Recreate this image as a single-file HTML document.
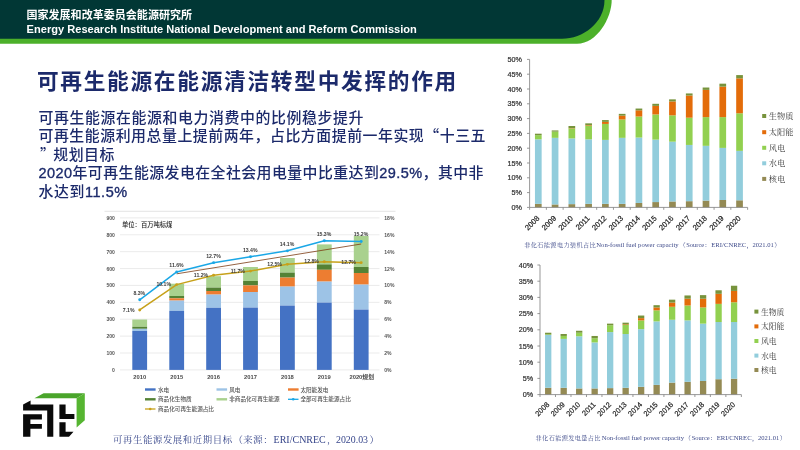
<!DOCTYPE html>
<html lang="zh-CN">
<head>
<meta charset="utf-8">
<title>可再生能源在能源清洁转型中发挥的作用</title>
<style>
html,body{margin:0;padding:0;background:#fff;}
body{width:800px;height:450px;overflow:hidden;position:relative;font-family:"Liberation Sans", "Noto Sans CJK SC", sans-serif;}
svg{position:absolute;left:0;top:0;display:block;}
.t{position:absolute;white-space:nowrap;line-height:1;}
.sans{font-family:"Liberation Sans", "Noto Sans CJK SC", sans-serif;}
.serif{font-family:"Liberation Serif", "Noto Serif CJK SC", serif;}
</style>
</head>
<body>
<svg width="800" height="450" viewBox="0 0 800 450">

<g id="header">
<path d="M0,0 H611.7 C611.7,18 597,43.7 577,43.7 H0 Z" fill="#4cb02a"/>
<path d="M0,0 H604.5 C604.5,22.9 582.7,38.8 562,38.8 H0 Z" fill="#013735"/>
<text x="26.4" y="19.2" font-family='"Liberation Sans", "Noto Sans CJK SC", sans-serif' font-weight="700" font-size="11.05" fill="#fff">国家发展和改革委员会能源研究所</text>
<text x="26.6" y="33.2" font-family='"Liberation Sans", "Noto Sans CJK SC", sans-serif' font-weight="700" font-size="11.08" fill="#fff">Energy Research Institute National Development and Reform Commission</text>
</g>
<g id="text" font-family='"Liberation Sans", "Noto Sans CJK SC", sans-serif' fill="#1c2a6b">
<text x="36.9" y="89.3" font-weight="700" font-size="21.7" textLength="419.4" lengthAdjust="spacing">可再生能源在能源清洁转型中发挥的作用</text>
<text x="38.5" y="122.7" font-size="14.9" font-weight="500" textLength="325" lengthAdjust="spacing">可再生能源在能源和电力消费中的比例稳步提升</text>
<text x="38.5" y="140.9" font-size="14.9" font-weight="500" textLength="447" lengthAdjust="spacing">可再生能源利用总量上提前两年，占比方面提前一年实现<tspan font-family="Noto Sans CJK SC, sans-serif">“</tspan>十三五</text>
<text x="38.5" y="159.6" font-size="14.9" font-weight="500" letter-spacing="0.57"><tspan dx="1.5" font-family="Noto Sans CJK SC, sans-serif">”</tspan><tspan dx="-2.3">规</tspan>划目标</text>
<text x="38.5" y="178.3" font-size="14.9" font-weight="500" textLength="445" lengthAdjust="spacing"><tspan stroke="#1c2a6b" stroke-width="0.35" font-size="14.5">2020</tspan>年可再生能源发电在全社会用电量中比重达到<tspan stroke="#1c2a6b" stroke-width="0.35" font-size="14.5">29.5%</tspan>，其中非</text>
<text x="38.5" y="197.0" font-size="14.9" font-weight="500" letter-spacing="0.57">水达到<tspan stroke="#1c2a6b" stroke-width="0.35" font-size="14.5">11.5%</tspan></text>
</g>
<g id="chart1">
<path d="M104.5,211.3 H395.5" stroke="#dcdcdc" stroke-width="0.8" fill="none"/>
<path d="M120,369.90 H379.5" stroke="#e2e2e2" stroke-width="0.7" fill="none"/>
<path d="M120,353.01 H379.5" stroke="#e2e2e2" stroke-width="0.7" fill="none"/>
<path d="M120,336.12 H379.5" stroke="#e2e2e2" stroke-width="0.7" fill="none"/>
<path d="M120,319.23 H379.5" stroke="#e2e2e2" stroke-width="0.7" fill="none"/>
<path d="M120,302.34 H379.5" stroke="#e2e2e2" stroke-width="0.7" fill="none"/>
<path d="M120,285.45 H379.5" stroke="#e2e2e2" stroke-width="0.7" fill="none"/>
<path d="M120,268.56 H379.5" stroke="#e2e2e2" stroke-width="0.7" fill="none"/>
<path d="M120,251.67 H379.5" stroke="#e2e2e2" stroke-width="0.7" fill="none"/>
<path d="M120,234.78 H379.5" stroke="#e2e2e2" stroke-width="0.7" fill="none"/>
<path d="M120,217.89 H379.5" stroke="#e2e2e2" stroke-width="0.7" fill="none"/>
<g font-family='"Liberation Sans", "Noto Sans CJK SC", sans-serif' font-size="5.05" font-weight="700" fill="#555">
<text x="114.8" y="371.85" text-anchor="end">0</text>
<text x="114.8" y="354.96" text-anchor="end">100</text>
<text x="114.8" y="338.07" text-anchor="end">200</text>
<text x="114.8" y="321.18" text-anchor="end">300</text>
<text x="114.8" y="304.29" text-anchor="end">400</text>
<text x="114.8" y="287.40" text-anchor="end">500</text>
<text x="114.8" y="270.51" text-anchor="end">600</text>
<text x="114.8" y="253.62" text-anchor="end">700</text>
<text x="114.8" y="236.73" text-anchor="end">800</text>
<text x="114.8" y="219.84" text-anchor="end">900</text>
<text x="384.3" y="371.85">0%</text>
<text x="384.3" y="354.96">2%</text>
<text x="384.3" y="338.07">4%</text>
<text x="384.3" y="321.18">6%</text>
<text x="384.3" y="304.29">8%</text>
<text x="384.3" y="287.40">10%</text>
<text x="384.3" y="270.51">12%</text>
<text x="384.3" y="253.62">14%</text>
<text x="384.3" y="236.73">16%</text>
<text x="384.3" y="219.84">18%</text>
</g>
<text x="122" y="226.7" font-family='"Liberation Sans", "Noto Sans CJK SC", sans-serif' font-size="6.3" font-weight="500" fill="#222">单位：百万吨标煤</text>
<rect x="132.30" y="319.50" width="14.80" height="7.30" fill="#a9d18e"/>
<rect x="132.30" y="326.80" width="14.80" height="2.00" fill="#548235"/>
<rect x="132.30" y="328.80" width="14.80" height="2.20" fill="#9dc3e6"/>
<rect x="132.30" y="331.00" width="14.80" height="38.90" fill="#4472c4"/>
<rect x="169.30" y="283.70" width="14.80" height="12.30" fill="#a9d18e"/>
<rect x="169.30" y="296.00" width="14.80" height="2.30" fill="#548235"/>
<rect x="169.30" y="298.30" width="14.80" height="2.30" fill="#ed7d31"/>
<rect x="169.30" y="300.60" width="14.80" height="10.30" fill="#9dc3e6"/>
<rect x="169.30" y="310.90" width="14.80" height="59.00" fill="#4472c4"/>
<rect x="206.20" y="276.20" width="14.80" height="11.40" fill="#a9d18e"/>
<rect x="206.20" y="287.60" width="14.80" height="3.40" fill="#548235"/>
<rect x="206.20" y="291.00" width="14.80" height="3.60" fill="#ed7d31"/>
<rect x="206.20" y="294.60" width="14.80" height="13.20" fill="#9dc3e6"/>
<rect x="206.20" y="307.80" width="14.80" height="62.10" fill="#4472c4"/>
<rect x="243.10" y="267.00" width="14.80" height="14.00" fill="#a9d18e"/>
<rect x="243.10" y="281.00" width="14.80" height="4.40" fill="#548235"/>
<rect x="243.10" y="285.40" width="14.80" height="6.60" fill="#ed7d31"/>
<rect x="243.10" y="292.00" width="14.80" height="15.60" fill="#9dc3e6"/>
<rect x="243.10" y="307.60" width="14.80" height="62.30" fill="#4472c4"/>
<rect x="280.00" y="258.00" width="14.80" height="14.60" fill="#a9d18e"/>
<rect x="280.00" y="272.60" width="14.80" height="5.00" fill="#548235"/>
<rect x="280.00" y="277.60" width="14.80" height="9.00" fill="#ed7d31"/>
<rect x="280.00" y="286.60" width="14.80" height="19.00" fill="#9dc3e6"/>
<rect x="280.00" y="305.60" width="14.80" height="64.30" fill="#4472c4"/>
<rect x="316.90" y="244.40" width="14.80" height="20.00" fill="#a9d18e"/>
<rect x="316.90" y="264.40" width="14.80" height="5.40" fill="#548235"/>
<rect x="316.90" y="269.80" width="14.80" height="11.80" fill="#ed7d31"/>
<rect x="316.90" y="281.60" width="14.80" height="21.00" fill="#9dc3e6"/>
<rect x="316.90" y="302.60" width="14.80" height="67.30" fill="#4472c4"/>
<rect x="353.80" y="236.00" width="14.80" height="31.00" fill="#a9d18e"/>
<rect x="353.80" y="267.00" width="14.80" height="6.00" fill="#548235"/>
<rect x="353.80" y="273.00" width="14.80" height="11.60" fill="#ed7d31"/>
<rect x="353.80" y="284.60" width="14.80" height="25.00" fill="#9dc3e6"/>
<rect x="353.80" y="309.60" width="14.80" height="60.30" fill="#4472c4"/>
<path d="M176.7,273.8 L361.2,244" stroke="#7b3a12" stroke-width="0.8" fill="none"/>
<polyline points="139.70,309.94 176.70,284.61 213.60,275.32 250.50,271.09 287.40,264.34 324.30,261.80 361.20,262.65" fill="none" stroke="#c7a11a" stroke-width="1.5" stroke-linejoin="round"/>
<circle cx="139.70" cy="309.94" r="1.45" fill="#c7a11a"/>
<circle cx="176.70" cy="284.61" r="1.45" fill="#c7a11a"/>
<circle cx="213.60" cy="275.32" r="1.45" fill="#c7a11a"/>
<circle cx="250.50" cy="271.09" r="1.45" fill="#c7a11a"/>
<circle cx="287.40" cy="264.34" r="1.45" fill="#c7a11a"/>
<circle cx="324.30" cy="261.80" r="1.45" fill="#c7a11a"/>
<circle cx="361.20" cy="262.65" r="1.45" fill="#c7a11a"/>
<polyline points="139.70,299.81 176.70,271.94 213.60,262.65 250.50,256.74 287.40,250.83 324.30,240.69 361.20,241.54" fill="none" stroke="#1aa7e6" stroke-width="1.5" stroke-linejoin="round"/>
<circle cx="139.70" cy="299.81" r="1.45" fill="#1aa7e6"/>
<circle cx="176.70" cy="271.94" r="1.45" fill="#1aa7e6"/>
<circle cx="213.60" cy="262.65" r="1.45" fill="#1aa7e6"/>
<circle cx="250.50" cy="256.74" r="1.45" fill="#1aa7e6"/>
<circle cx="287.40" cy="250.83" r="1.45" fill="#1aa7e6"/>
<circle cx="324.30" cy="240.69" r="1.45" fill="#1aa7e6"/>
<circle cx="361.20" cy="241.54" r="1.45" fill="#1aa7e6"/>
<g font-family='"Liberation Sans", "Noto Sans CJK SC", sans-serif' font-size="5.15" font-weight="700" fill="#3a3a3a" text-anchor="middle">
<text x="139.3" y="295.1">8.3%</text>
<text x="176.5" y="266.5">11.6%</text>
<text x="213.5" y="257.5">12.7%</text>
<text x="250.2" y="251.8">13.4%</text>
<text x="287.0" y="246.2">14.1%</text>
<text x="324.0" y="235.8">15.3%</text>
<text x="361.0" y="235.8">15.2%</text>
<text x="128.7" y="311.8">7.1%</text>
<text x="163.7" y="285.8">10.1%</text>
<text x="201.0" y="277.1">11.2%</text>
<text x="237.8" y="272.8">11.7%</text>
<text x="274.6" y="266.2">12.5%</text>
<text x="311.6" y="263.4">12.8%</text>
<text x="348.6" y="264.2">12.7%</text>
</g>
<g font-family='"Liberation Sans", "Noto Sans CJK SC", sans-serif' font-size="5.8" font-weight="700" fill="#4a4a4a" text-anchor="middle">
<text x="139.7" y="378.7">2010</text>
<text x="176.7" y="378.7">2015</text>
<text x="213.6" y="378.7">2016</text>
<text x="250.5" y="378.7">2017</text>
<text x="287.4" y="378.7">2018</text>
<text x="324.3" y="378.7">2019</text>
<text x="361.7" y="378.7">2020规划</text>
</g>
<g font-family='"Liberation Sans", "Noto Sans CJK SC", sans-serif' font-size="5.6" font-weight="500" fill="#555">
<rect x="145.0" y="388.3" width="10.6" height="2.4" fill="#4472c4"/>
<text x="158" y="391.5">水电</text>
<rect x="216.5" y="388.3" width="10.6" height="2.4" fill="#9dc3e6"/>
<text x="229.2" y="391.5">风电</text>
<rect x="288.0" y="388.3" width="10.6" height="2.4" fill="#ed7d31"/>
<text x="300.4" y="391.5">太阳能发电</text>
<rect x="145.0" y="398.1" width="10.6" height="2.4" fill="#548235"/>
<text x="158" y="401.3">商品化生物质</text>
<rect x="216.5" y="398.1" width="10.6" height="2.4" fill="#a9d18e"/>
<text x="229.2" y="401.3">非商品化可再生能源</text>
<path d="M288.0,399.3 h10.5" stroke="#1aa7e6" stroke-width="1.3"/><circle cx="293.2" cy="399.3" r="1.3" fill="#1aa7e6"/>
<text x="300.4" y="401.3">全部可再生能源占比</text>
<path d="M145.0,409.0 h10.5" stroke="#c7a11a" stroke-width="1.3"/><circle cx="150.2" cy="409.0" r="1.3" fill="#c7a11a"/>
<text x="158" y="411">商品化可再生能源占比</text>
</g>
</g>
<g font-family='"Liberation Serif", "Noto Serif CJK SC", serif' fill="#36458a">
<text x="113" y="443.3" font-size="9.4" letter-spacing="0.6">可再生能源发展和近期目标</text>
<text x="233.4" y="443.3" font-size="9.4">（</text>
<text x="243.3" y="443.3" font-size="9.4" letter-spacing="0.7">来源</text>
<text x="263.2" y="443.3" font-size="9.4">：</text>
<text x="273.6" y="443.4" font-size="10" textLength="52.2" lengthAdjust="spacingAndGlyphs">ERI/CNREC</text>
<text x="327" y="443.3" font-size="9.4">，</text>
<text x="336" y="443.4" font-size="10" textLength="32" lengthAdjust="spacingAndGlyphs">2020.03</text>
<text x="369.5" y="443.3" font-size="9.4">）</text>
</g>
<g id="logo">
<polygon points="34.4,398.2 43.6,393.3 84.8,393.3 76.6,398.2" fill="#4aa52b"/>
<polygon points="76.6,398.2 84.8,393.3 84.8,420.2 76.6,427.5" fill="#56b531"/>
<g fill="#0a0a0a">
<polygon points="23.1,404.4 30.6,400.6 30.6,404.4 53.3,404.4 53.3,436.7 47.2,436.7 47.2,410.6 23.1,410.6"/>
<polygon points="23.1,414.3 41.9,414.3 41.9,419.5 30.4,419.5 30.4,424.1 41.9,424.1 41.9,428.7 30.4,428.7 30.4,436.8 23.1,436.8"/>
<polygon points="59.4,404.4 65.6,404.4 65.6,413.9 74.4,413.9 74.4,418.9 59.4,418.9"/>
<polygon points="59.4,422.2 65.6,422.2 65.6,431.7 73.5,431.7 69,436.7 59.4,436.7"/>
</g></g>
<g id="chart2">
<rect x="534.95" y="203.85" width="6.70" height="3.55" fill="#948a54"/>
<rect x="534.95" y="139.32" width="6.70" height="64.53" fill="#92cddc"/>
<rect x="534.95" y="135.18" width="6.70" height="4.14" fill="#92d050"/>
<rect x="534.95" y="133.70" width="6.70" height="1.48" fill="#77933c"/>
<rect x="551.72" y="204.44" width="6.70" height="2.96" fill="#948a54"/>
<rect x="551.72" y="137.84" width="6.70" height="66.60" fill="#92cddc"/>
<rect x="551.72" y="131.62" width="6.70" height="6.22" fill="#92d050"/>
<rect x="551.72" y="130.44" width="6.70" height="1.18" fill="#77933c"/>
<rect x="568.49" y="204.14" width="6.70" height="3.26" fill="#948a54"/>
<rect x="568.49" y="138.43" width="6.70" height="65.71" fill="#92cddc"/>
<rect x="568.49" y="128.37" width="6.70" height="10.06" fill="#92d050"/>
<rect x="568.49" y="128.07" width="6.70" height="0.30" fill="#e36c0a"/>
<rect x="568.49" y="126.00" width="6.70" height="2.07" fill="#77933c"/>
<rect x="585.26" y="203.85" width="6.70" height="3.55" fill="#948a54"/>
<rect x="585.26" y="139.32" width="6.70" height="64.53" fill="#92cddc"/>
<rect x="585.26" y="125.70" width="6.70" height="13.62" fill="#92d050"/>
<rect x="585.26" y="125.11" width="6.70" height="0.59" fill="#e36c0a"/>
<rect x="585.26" y="123.34" width="6.70" height="1.78" fill="#77933c"/>
<rect x="602.03" y="203.85" width="6.70" height="3.55" fill="#948a54"/>
<rect x="602.03" y="139.91" width="6.70" height="63.94" fill="#92cddc"/>
<rect x="602.03" y="123.93" width="6.70" height="15.98" fill="#92d050"/>
<rect x="602.03" y="121.86" width="6.70" height="2.07" fill="#e36c0a"/>
<rect x="602.03" y="120.08" width="6.70" height="1.78" fill="#77933c"/>
<rect x="618.80" y="203.85" width="6.70" height="3.55" fill="#948a54"/>
<rect x="618.80" y="137.84" width="6.70" height="66.01" fill="#92cddc"/>
<rect x="618.80" y="119.49" width="6.70" height="18.35" fill="#92d050"/>
<rect x="618.80" y="115.64" width="6.70" height="3.85" fill="#e36c0a"/>
<rect x="618.80" y="113.86" width="6.70" height="1.78" fill="#77933c"/>
<rect x="635.57" y="202.96" width="6.70" height="4.44" fill="#948a54"/>
<rect x="635.57" y="137.54" width="6.70" height="65.42" fill="#92cddc"/>
<rect x="635.57" y="116.53" width="6.70" height="21.02" fill="#92d050"/>
<rect x="635.57" y="110.31" width="6.70" height="6.22" fill="#e36c0a"/>
<rect x="635.57" y="108.54" width="6.70" height="1.78" fill="#77933c"/>
<rect x="652.34" y="202.07" width="6.70" height="5.33" fill="#948a54"/>
<rect x="652.34" y="139.62" width="6.70" height="62.46" fill="#92cddc"/>
<rect x="652.34" y="114.46" width="6.70" height="25.16" fill="#92d050"/>
<rect x="652.34" y="105.87" width="6.70" height="8.58" fill="#e36c0a"/>
<rect x="652.34" y="103.80" width="6.70" height="2.07" fill="#77933c"/>
<rect x="669.11" y="201.48" width="6.70" height="5.92" fill="#948a54"/>
<rect x="669.11" y="141.69" width="6.70" height="59.79" fill="#92cddc"/>
<rect x="669.11" y="115.34" width="6.70" height="26.34" fill="#92d050"/>
<rect x="669.11" y="101.43" width="6.70" height="13.91" fill="#e36c0a"/>
<rect x="669.11" y="99.36" width="6.70" height="2.07" fill="#77933c"/>
<rect x="685.88" y="201.18" width="6.70" height="6.22" fill="#948a54"/>
<rect x="685.88" y="144.94" width="6.70" height="56.24" fill="#92cddc"/>
<rect x="685.88" y="117.71" width="6.70" height="27.23" fill="#92d050"/>
<rect x="685.88" y="95.51" width="6.70" height="22.20" fill="#e36c0a"/>
<rect x="685.88" y="93.44" width="6.70" height="2.07" fill="#77933c"/>
<rect x="702.65" y="200.59" width="6.70" height="6.81" fill="#948a54"/>
<rect x="702.65" y="145.83" width="6.70" height="54.76" fill="#92cddc"/>
<rect x="702.65" y="117.12" width="6.70" height="28.71" fill="#92d050"/>
<rect x="702.65" y="89.89" width="6.70" height="27.23" fill="#e36c0a"/>
<rect x="702.65" y="87.52" width="6.70" height="2.37" fill="#77933c"/>
<rect x="719.42" y="200.00" width="6.70" height="7.40" fill="#948a54"/>
<rect x="719.42" y="147.90" width="6.70" height="52.10" fill="#92cddc"/>
<rect x="719.42" y="117.12" width="6.70" height="30.78" fill="#92d050"/>
<rect x="719.42" y="86.63" width="6.70" height="30.49" fill="#e36c0a"/>
<rect x="719.42" y="83.67" width="6.70" height="2.96" fill="#77933c"/>
<rect x="736.19" y="200.30" width="6.70" height="7.10" fill="#948a54"/>
<rect x="736.19" y="150.86" width="6.70" height="49.43" fill="#92cddc"/>
<rect x="736.19" y="113.27" width="6.70" height="37.59" fill="#92d050"/>
<rect x="736.19" y="78.34" width="6.70" height="34.93" fill="#e36c0a"/>
<rect x="736.19" y="75.09" width="6.70" height="3.26" fill="#77933c"/>
<path d="M529.60,59.40 V207.40 H747.61" stroke="#858585" stroke-width="0.85" fill="none"/>
<path d="M529.60,207.40 h-2.6" stroke="#858585" stroke-width="0.85"/>
<path d="M529.60,192.60 h-2.6" stroke="#858585" stroke-width="0.85"/>
<path d="M529.60,177.80 h-2.6" stroke="#858585" stroke-width="0.85"/>
<path d="M529.60,163.00 h-2.6" stroke="#858585" stroke-width="0.85"/>
<path d="M529.60,148.20 h-2.6" stroke="#858585" stroke-width="0.85"/>
<path d="M529.60,133.40 h-2.6" stroke="#858585" stroke-width="0.85"/>
<path d="M529.60,118.60 h-2.6" stroke="#858585" stroke-width="0.85"/>
<path d="M529.60,103.80 h-2.6" stroke="#858585" stroke-width="0.85"/>
<path d="M529.60,89.00 h-2.6" stroke="#858585" stroke-width="0.85"/>
<path d="M529.60,74.20 h-2.6" stroke="#858585" stroke-width="0.85"/>
<path d="M529.60,59.40 h-2.6" stroke="#858585" stroke-width="0.85"/>
<path d="M529.60,207.40 v2.4" stroke="#858585" stroke-width="0.85"/>
<path d="M546.37,207.40 v2.4" stroke="#858585" stroke-width="0.85"/>
<path d="M563.14,207.40 v2.4" stroke="#858585" stroke-width="0.85"/>
<path d="M579.91,207.40 v2.4" stroke="#858585" stroke-width="0.85"/>
<path d="M596.68,207.40 v2.4" stroke="#858585" stroke-width="0.85"/>
<path d="M613.45,207.40 v2.4" stroke="#858585" stroke-width="0.85"/>
<path d="M630.22,207.40 v2.4" stroke="#858585" stroke-width="0.85"/>
<path d="M646.99,207.40 v2.4" stroke="#858585" stroke-width="0.85"/>
<path d="M663.76,207.40 v2.4" stroke="#858585" stroke-width="0.85"/>
<path d="M680.53,207.40 v2.4" stroke="#858585" stroke-width="0.85"/>
<path d="M697.30,207.40 v2.4" stroke="#858585" stroke-width="0.85"/>
<path d="M714.07,207.40 v2.4" stroke="#858585" stroke-width="0.85"/>
<path d="M730.84,207.40 v2.4" stroke="#858585" stroke-width="0.85"/>
<path d="M747.61,207.40 v2.4" stroke="#858585" stroke-width="0.85"/>
<g font-family='"Liberation Sans", "Noto Sans CJK SC", sans-serif' font-size="7.2" fill="#333" stroke="#333" stroke-width="0.22" text-anchor="end">
<text x="522.0" y="209.95">0%</text>
<text x="522.0" y="195.15">5%</text>
<text x="522.0" y="180.35">10%</text>
<text x="522.0" y="165.55">15%</text>
<text x="522.0" y="150.75">20%</text>
<text x="522.0" y="135.95">25%</text>
<text x="522.0" y="121.15">30%</text>
<text x="522.0" y="106.35">35%</text>
<text x="522.0" y="91.55">40%</text>
<text x="522.0" y="76.75">45%</text>
<text x="522.0" y="61.95">50%</text>
</g>
<g font-family='"Liberation Sans", "Noto Sans CJK SC", sans-serif' font-size="7.6" fill="#1c1c1c" stroke="#1c1c1c" stroke-width="0.2" text-anchor="end">
<text transform="translate(539.90,218.80) rotate(-45)">2008</text>
<text transform="translate(556.67,218.80) rotate(-45)">2009</text>
<text transform="translate(573.44,218.80) rotate(-45)">2010</text>
<text transform="translate(590.21,218.80) rotate(-45)">2011</text>
<text transform="translate(606.98,218.80) rotate(-45)">2012</text>
<text transform="translate(623.75,218.80) rotate(-45)">2013</text>
<text transform="translate(640.52,218.80) rotate(-45)">2014</text>
<text transform="translate(657.29,218.80) rotate(-45)">2015</text>
<text transform="translate(674.06,218.80) rotate(-45)">2016</text>
<text transform="translate(690.83,218.80) rotate(-45)">2017</text>
<text transform="translate(707.60,218.80) rotate(-45)">2018</text>
<text transform="translate(724.37,218.80) rotate(-45)">2019</text>
<text transform="translate(741.14,218.80) rotate(-45)">2020</text>
</g>
<g font-family='"Liberation Serif", "Noto Serif CJK SC", serif' font-size="8.2" fill="#333">
<rect x="762.2" y="114.0" width="4" height="4" fill="#77933c"/>
<text x="768.8" y="118.9">生物质</text>
<rect x="762.2" y="130.2" width="4" height="4" fill="#e36c0a"/>
<text x="768.8" y="135.1">太阳能</text>
<rect x="762.2" y="145.8" width="4" height="4" fill="#92d050"/>
<text x="768.8" y="150.7">风电</text>
<rect x="762.2" y="161.3" width="4" height="4" fill="#92cddc"/>
<text x="768.8" y="166.2">水电</text>
<rect x="762.2" y="176.9" width="4" height="4" fill="#948a54"/>
<text x="768.8" y="181.8">核电</text>
</g>
<g font-family='"Liberation Serif", "Noto Serif CJK SC", serif' fill="#3f4b8a" font-size="6.2">
<text x="524.3" y="247.0" letter-spacing="0.33">非化石能源电力装机占比</text>
<text x="596.30" y="247.0" font-size="6.6" textLength="82.3" lengthAdjust="spacingAndGlyphs">Non-fossil fuel power capacity</text>
<text x="679.40" y="247.0">（</text>
<text x="686.25" y="247.0" font-size="6.6" textLength="18" lengthAdjust="spacingAndGlyphs">Source</text>
<text x="704.60" y="247.0">：</text>
<text x="711.25" y="247.0" font-size="6.6" textLength="35" lengthAdjust="spacingAndGlyphs">ERI/CNREC</text>
<text x="746.60" y="247.0">，</text>
<text x="752.50" y="247.0" font-size="6.6" textLength="21.3" lengthAdjust="spacingAndGlyphs">2021.01</text>
<text x="774.30" y="247.0">）</text>
</g>
</g>
<g id="chart3">
<rect x="545.05" y="387.80" width="6.30" height="6.80" fill="#948a54"/>
<rect x="545.05" y="334.98" width="6.30" height="52.81" fill="#92cddc"/>
<rect x="545.05" y="334.34" width="6.30" height="0.65" fill="#92d050"/>
<rect x="545.05" y="332.72" width="6.30" height="1.62" fill="#77933c"/>
<rect x="560.54" y="387.80" width="6.30" height="6.80" fill="#948a54"/>
<rect x="560.54" y="338.87" width="6.30" height="48.92" fill="#92cddc"/>
<rect x="560.54" y="335.96" width="6.30" height="2.92" fill="#92d050"/>
<rect x="560.54" y="334.01" width="6.30" height="1.94" fill="#77933c"/>
<rect x="576.03" y="388.44" width="6.30" height="6.16" fill="#948a54"/>
<rect x="576.03" y="336.28" width="6.30" height="52.16" fill="#92cddc"/>
<rect x="576.03" y="332.72" width="6.30" height="3.56" fill="#92d050"/>
<rect x="576.03" y="330.77" width="6.30" height="1.94" fill="#77933c"/>
<rect x="591.52" y="388.44" width="6.30" height="6.16" fill="#948a54"/>
<rect x="591.52" y="342.44" width="6.30" height="46.01" fill="#92cddc"/>
<rect x="591.52" y="338.22" width="6.30" height="4.21" fill="#92d050"/>
<rect x="591.52" y="335.96" width="6.30" height="2.27" fill="#77933c"/>
<rect x="607.01" y="388.12" width="6.30" height="6.48" fill="#948a54"/>
<rect x="607.01" y="332.07" width="6.30" height="56.05" fill="#92cddc"/>
<rect x="607.01" y="325.26" width="6.30" height="6.80" fill="#92d050"/>
<rect x="607.01" y="323.64" width="6.30" height="1.62" fill="#77933c"/>
<rect x="622.50" y="387.80" width="6.30" height="6.80" fill="#948a54"/>
<rect x="622.50" y="334.01" width="6.30" height="53.78" fill="#92cddc"/>
<rect x="622.50" y="324.94" width="6.30" height="9.07" fill="#92d050"/>
<rect x="622.50" y="324.29" width="6.30" height="0.65" fill="#e36c0a"/>
<rect x="622.50" y="322.67" width="6.30" height="1.62" fill="#77933c"/>
<rect x="637.99" y="386.82" width="6.30" height="7.78" fill="#948a54"/>
<rect x="637.99" y="329.15" width="6.30" height="57.67" fill="#92cddc"/>
<rect x="637.99" y="320.40" width="6.30" height="8.75" fill="#92d050"/>
<rect x="637.99" y="318.14" width="6.30" height="2.27" fill="#e36c0a"/>
<rect x="637.99" y="315.54" width="6.30" height="2.59" fill="#77933c"/>
<rect x="653.48" y="384.88" width="6.30" height="9.72" fill="#948a54"/>
<rect x="653.48" y="321.38" width="6.30" height="63.50" fill="#92cddc"/>
<rect x="653.48" y="310.36" width="6.30" height="11.02" fill="#92d050"/>
<rect x="653.48" y="307.44" width="6.30" height="2.92" fill="#e36c0a"/>
<rect x="653.48" y="305.18" width="6.30" height="2.27" fill="#77933c"/>
<rect x="668.97" y="382.61" width="6.30" height="11.99" fill="#948a54"/>
<rect x="668.97" y="319.76" width="6.30" height="62.86" fill="#92cddc"/>
<rect x="668.97" y="306.80" width="6.30" height="12.96" fill="#92d050"/>
<rect x="668.97" y="302.58" width="6.30" height="4.21" fill="#e36c0a"/>
<rect x="668.97" y="299.67" width="6.30" height="2.92" fill="#77933c"/>
<rect x="684.46" y="381.80" width="6.30" height="12.80" fill="#948a54"/>
<rect x="684.46" y="320.40" width="6.30" height="61.40" fill="#92cddc"/>
<rect x="684.46" y="305.50" width="6.30" height="14.90" fill="#92d050"/>
<rect x="684.46" y="298.70" width="6.30" height="6.80" fill="#e36c0a"/>
<rect x="684.46" y="295.46" width="6.30" height="3.24" fill="#77933c"/>
<rect x="699.95" y="380.99" width="6.30" height="13.61" fill="#948a54"/>
<rect x="699.95" y="323.64" width="6.30" height="57.35" fill="#92cddc"/>
<rect x="699.95" y="307.44" width="6.30" height="16.20" fill="#92d050"/>
<rect x="699.95" y="298.70" width="6.30" height="8.75" fill="#e36c0a"/>
<rect x="699.95" y="295.13" width="6.30" height="3.56" fill="#77933c"/>
<rect x="715.44" y="379.21" width="6.30" height="15.39" fill="#948a54"/>
<rect x="715.44" y="322.02" width="6.30" height="57.19" fill="#92cddc"/>
<rect x="715.44" y="303.88" width="6.30" height="18.14" fill="#92d050"/>
<rect x="715.44" y="293.84" width="6.30" height="10.04" fill="#e36c0a"/>
<rect x="715.44" y="290.27" width="6.30" height="3.56" fill="#77933c"/>
<rect x="730.93" y="378.72" width="6.30" height="15.88" fill="#948a54"/>
<rect x="730.93" y="322.02" width="6.30" height="56.70" fill="#92cddc"/>
<rect x="730.93" y="302.26" width="6.30" height="19.76" fill="#92d050"/>
<rect x="730.93" y="290.92" width="6.30" height="11.34" fill="#e36c0a"/>
<rect x="730.93" y="285.74" width="6.30" height="5.18" fill="#77933c"/>
<path d="M540.00,265.00 V394.60 H741.37" stroke="#858585" stroke-width="0.85" fill="none"/>
<path d="M540.00,394.60 h-2.6" stroke="#858585" stroke-width="0.85"/>
<path d="M540.00,378.40 h-2.6" stroke="#858585" stroke-width="0.85"/>
<path d="M540.00,362.20 h-2.6" stroke="#858585" stroke-width="0.85"/>
<path d="M540.00,346.00 h-2.6" stroke="#858585" stroke-width="0.85"/>
<path d="M540.00,329.80 h-2.6" stroke="#858585" stroke-width="0.85"/>
<path d="M540.00,313.60 h-2.6" stroke="#858585" stroke-width="0.85"/>
<path d="M540.00,297.40 h-2.6" stroke="#858585" stroke-width="0.85"/>
<path d="M540.00,281.20 h-2.6" stroke="#858585" stroke-width="0.85"/>
<path d="M540.00,265.00 h-2.6" stroke="#858585" stroke-width="0.85"/>
<path d="M540.00,394.60 v2.4" stroke="#858585" stroke-width="0.85"/>
<path d="M555.49,394.60 v2.4" stroke="#858585" stroke-width="0.85"/>
<path d="M570.98,394.60 v2.4" stroke="#858585" stroke-width="0.85"/>
<path d="M586.47,394.60 v2.4" stroke="#858585" stroke-width="0.85"/>
<path d="M601.96,394.60 v2.4" stroke="#858585" stroke-width="0.85"/>
<path d="M617.45,394.60 v2.4" stroke="#858585" stroke-width="0.85"/>
<path d="M632.94,394.60 v2.4" stroke="#858585" stroke-width="0.85"/>
<path d="M648.43,394.60 v2.4" stroke="#858585" stroke-width="0.85"/>
<path d="M663.92,394.60 v2.4" stroke="#858585" stroke-width="0.85"/>
<path d="M679.41,394.60 v2.4" stroke="#858585" stroke-width="0.85"/>
<path d="M694.90,394.60 v2.4" stroke="#858585" stroke-width="0.85"/>
<path d="M710.39,394.60 v2.4" stroke="#858585" stroke-width="0.85"/>
<path d="M725.88,394.60 v2.4" stroke="#858585" stroke-width="0.85"/>
<path d="M741.37,394.60 v2.4" stroke="#858585" stroke-width="0.85"/>
<g font-family='"Liberation Sans", "Noto Sans CJK SC", sans-serif' font-size="7.2" fill="#333" stroke="#333" stroke-width="0.22" text-anchor="end">
<text x="533.2" y="397.15">0%</text>
<text x="533.2" y="380.95">5%</text>
<text x="533.2" y="364.75">10%</text>
<text x="533.2" y="348.55">15%</text>
<text x="533.2" y="332.35">20%</text>
<text x="533.2" y="316.15">25%</text>
<text x="533.2" y="299.95">30%</text>
<text x="533.2" y="283.75">35%</text>
<text x="533.2" y="267.55">40%</text>
</g>
<g font-family='"Liberation Sans", "Noto Sans CJK SC", sans-serif' font-size="7.4" fill="#1c1c1c" stroke="#1c1c1c" stroke-width="0.2" text-anchor="end">
<text transform="translate(549.80,405.00) rotate(-45)">2008</text>
<text transform="translate(565.29,405.00) rotate(-45)">2009</text>
<text transform="translate(580.78,405.00) rotate(-45)">2010</text>
<text transform="translate(596.27,405.00) rotate(-45)">2011</text>
<text transform="translate(611.76,405.00) rotate(-45)">2012</text>
<text transform="translate(627.25,405.00) rotate(-45)">2013</text>
<text transform="translate(642.74,405.00) rotate(-45)">2014</text>
<text transform="translate(658.23,405.00) rotate(-45)">2015</text>
<text transform="translate(673.72,405.00) rotate(-45)">2016</text>
<text transform="translate(689.21,405.00) rotate(-45)">2017</text>
<text transform="translate(704.70,405.00) rotate(-45)">2018</text>
<text transform="translate(720.19,405.00) rotate(-45)">2019</text>
<text transform="translate(735.68,405.00) rotate(-45)">2020</text>
</g>
<g font-family='"Liberation Serif", "Noto Serif CJK SC", serif' font-size="7.8" fill="#333">
<rect x="754.4" y="309.6" width="4" height="4" fill="#77933c"/>
<text x="761.0" y="314.5">生物质</text>
<rect x="754.4" y="324.4" width="4" height="4" fill="#e36c0a"/>
<text x="761.0" y="329.3">太阳能</text>
<rect x="754.4" y="339.0" width="4" height="4" fill="#92d050"/>
<text x="761.0" y="343.9">风电</text>
<rect x="754.4" y="353.6" width="4" height="4" fill="#92cddc"/>
<text x="761.0" y="358.5">水电</text>
<rect x="754.4" y="368.0" width="4" height="4" fill="#948a54"/>
<text x="761.0" y="372.9">核电</text>
</g>
<g font-family='"Liberation Serif", "Noto Serif CJK SC", serif' fill="#3f4b8a" font-size="6.2">
<text x="535.6" y="439.9" letter-spacing="0.33">非化石能源发电量占比</text>
<text x="601.70" y="439.9" font-size="6.6" textLength="82.3" lengthAdjust="spacingAndGlyphs">Non-fossil fuel power capacity</text>
<text x="684.80" y="439.9">（</text>
<text x="691.65" y="439.9" font-size="6.6" textLength="18" lengthAdjust="spacingAndGlyphs">Source</text>
<text x="710.00" y="439.9">：</text>
<text x="716.65" y="439.9" font-size="6.6" textLength="35" lengthAdjust="spacingAndGlyphs">ERI/CNREC</text>
<text x="752.00" y="439.9">，</text>
<text x="757.90" y="439.9" font-size="6.6" textLength="21.3" lengthAdjust="spacingAndGlyphs">2021.01</text>
<text x="779.70" y="439.9">）</text>
</g>
</g>
</svg>
</body>
</html>
